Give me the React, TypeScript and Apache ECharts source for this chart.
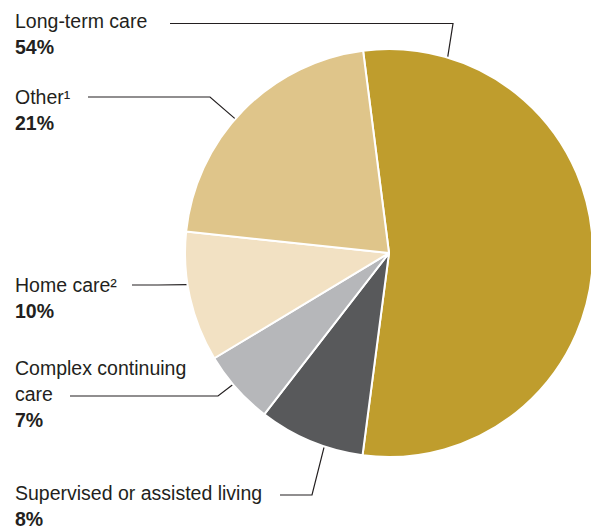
import React, { useEffect, useRef } from "react";
import * as echarts from "echarts";

const categories = [
  "Long-term care",
  "Supervised or assisted living",
  "Complex continuing\ncare",
  "Home care²",
  "Other¹",
];
const values = [54.1, 8.4, 5.9, 10.3, 21.3];
const pctLabels = ["54%", "8%", "7%", "10%", "21%"];
const colors = ["#BF9D2D", "#58595B", "#B6B7BA", "#F2E1C3", "#DFC58A"];

// label layout (positions only)
const CX = 389;
const CY = 253;
const R = 204;
const labelTop = [8, 480, 355, 272, 84];
const anchorAngle = [73.3, 251.5, 220.1, 188.9, 138.9];
const elbow: number[][] = [
  [453, 23.5],
  [312, 495],
  [218, 396],
  [158, 285],
  [210, 97],
];
const lineEndX = [170, 280, 70, 132, 88];

const TEXT = "#231F20";
const FONT = "'Liberation Sans', Arial, sans-serif";

export default function App() {
  const ref = useRef<HTMLDivElement>(null);
  useEffect(() => {
    document.body.style.margin = "0";
    const chart = echarts.init(ref.current!, null, { renderer: "svg" });
    const edge = (deg: number) => {
      const a = (deg * Math.PI) / 180;
      return [CX + R * Math.cos(a), CY - R * Math.sin(a)];
    };
    chart.setOption({
      animation: false,
      backgroundColor: "#ffffff",
      series: [
        {
          type: "pie",
          center: [CX, CY],
          radius: [0, R],
          startAngle: 97.3,
          clockwise: true,
          avoidLabelOverlap: false,
          itemStyle: { borderColor: "#ffffff", borderWidth: 2 },
          emphasis: { disabled: true },
          data: categories.map((c, i) => ({
            name: c,
            value: values[i],
            itemStyle: { color: colors[i] },
          })),
          label: {
            show: true,
            position: "outside",
            formatter: (p: any) =>
              `{name|${String(p.name).split("\n").join("}\n{name|")}}\n{pct|${pctLabels[p.dataIndex]}}`,
            rich: {
              name: {
                fontSize: 19.5,
                fontFamily: FONT,
                color: TEXT,
                lineHeight: 26,
              },
              pct: {
                fontSize: 19.5,
                fontFamily: FONT,
                fontWeight: "bold",
                color: TEXT,
                lineHeight: 25,
              },
            },
          },
          labelLine: {
            show: true,
            lineStyle: { color: TEXT, width: 1.2 },
          },
          labelLayout: (params: any) => {
            const i = params.dataIndex;
            const e = edge(anchorAngle[i]);
            const el = elbow[i];
            return {
              x: 15,
              y: labelTop[i],
              align: "left",
              verticalAlign: "top",
              labelLinePoints: [e, el, [lineEndX[i], el[1]]],
            };
          },
        },
      ],
    });
    return () => chart.dispose();
  }, []);
  return <div ref={ref} style={{ width: 591, height: 529 }} />;
}
